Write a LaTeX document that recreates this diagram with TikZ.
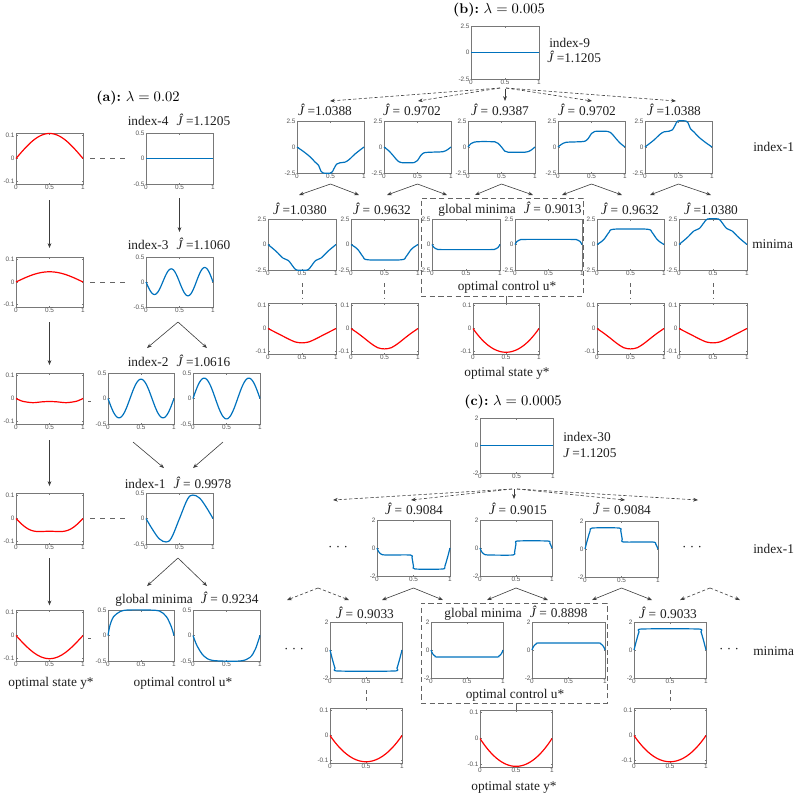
\documentclass[tikz,border=0pt]{standalone}
\usepackage{fontspec}
\usetikzlibrary{arrows.meta}
\newfontfamily\tnr{Liberation Serif}
\newfontfamily\ticksf{Liberation Sans}
\definecolor{framegray}{RGB}{120,120,120}
\definecolor{tickgray}{RGB}{85,85,85}
\definecolor{arrgray}{RGB}{60,60,60}
\definecolor{dgray}{RGB}{100,100,100}
\definecolor{mred}{RGB}{255,0,0}
\definecolor{mblue}{RGB}{0,114,189}
\definecolor{txt}{RGB}{30,30,30}
\tikzset{
  plotframe/.style={draw=framegray,line width=0.5pt,inner sep=0pt,outer sep=0pt},
  tickline/.style={draw=framegray,line width=0.4pt},
  ticklab/.style={font=\ticksf\fontsize{4.8}{5}\selectfont,text=tickgray,inner sep=0.9pt},
  lab/.style={font=\tnr\fontsize{10}{12}\selectfont,inner sep=0pt,text=txt},
  ttl/.style={font=\fontsize{10.5}{12}\selectfont,inner sep=0pt},
  rc/.style={draw=mred,line width=0.9pt},
  bc/.style={draw=mblue,line width=0.9pt},
  arr/.style={draw=arrgray,line width=0.45pt,-{Stealth[length=3.6pt,width=2.8pt]}},
  darr/.style={arr,dash pattern=on 2.4pt off 1.6pt},
  dline/.style={draw=dgray,line width=0.5pt,dash pattern=on 4pt off 3.5pt},
  vline/.style={draw=dgray,line width=0.5pt,dash pattern=on 3pt off 2.5pt},
  dbox/.style={draw=dgray,line width=0.6pt,dash pattern=on 4pt off 2.5pt,inner sep=0pt},
}
\newcommand\setaxes[4]{\gdef\prR{#1}\gdef\prT{#2}\gdef\prTop{#3}\gdef\prBot{#4}}
\newcommand\mkplot[7]{%
  \pgfmathsetmacro\mkW{#4-#2}%
  \pgfmathsetmacro\mkH{#5-#3}%
  \pgfmathsetmacro\mkCX{(#2+#4)/2}%
  \pgfmathsetmacro\mkCY{(#3+#5)/2}%
  \pgfmathsetmacro\mkTk{\mkH/2*\prT/\prR}%
  \pgfmathsetmacro\mkYs{-\mkH/2/\prR}%
  \pgfmathsetmacro\mkYt{\mkCY-\mkTk}%
  \pgfmathsetmacro\mkYb{\mkCY+\mkTk}%
  \node[plotframe,minimum width=\mkW*0.75pt,minimum height=\mkH*0.75pt] (#1) at (\mkCX,\mkCY) {};
  \draw[tickline] (#2,\mkYt) -- ++(1.5,0) (#2,\mkCY) -- ++(1.5,0) (#2,\mkYb) -- ++(1.5,0)
    (#4,\mkYt) -- ++(-1.5,0) (#4,\mkCY) -- ++(-1.5,0) (#4,\mkYb) -- ++(-1.5,0)
    (\mkCX,#5) -- ++(0,-1.5) (\mkCX,#3) -- ++(0,1.5);
  \node[ticklab,anchor=east] at (#2,\mkYt) {\prTop};
  \node[ticklab,anchor=east] at (#2,\mkCY) {0};
  \node[ticklab,anchor=east] at (#2,\mkYb) {\prBot};
  \node[ticklab,anchor=north] at (#2,#5) {0};
  \node[ticklab,anchor=north] at (\mkCX,#5) {0.5};
  \node[ticklab,anchor=north] at (#4,#5) {1};
  \begin{scope}[shift={(#2,\mkCY)},xscale=\mkW,yscale=\mkYs]
    \draw[#6] #7;
  \end{scope}%
}
\newcommand\Jh{\textit{Ĵ}}
\begin{document}
\begin{tikzpicture}[x=0.75pt,y=-0.75pt]
\useasboundingbox (0,0) rectangle (793,793);
% ================= (a)
\node[ttl] (ta) at (138,98) {\textbf{(a):}~$\lambda=0.02$};
\setaxes{0.11}{0.1}{0.1}{-0.1}
\mkplot{ra1}{16}{133}{83}{184}{rc}{plot[domain=0:1,samples=40] (\x,{0.108*sin(180*\x)})}
\mkplot{ra2}{16}{257}{83}{307}{rc}{plot[domain=0:1,samples=40] (\x,{0.045*sin(180*\x)})}
\mkplot{ra3}{16}{373}{83}{424}{rc}{plot[smooth,tension=0.5] coordinates {(0,0) (0.1,-0.012) (0.25,-0.018) (0.4,-0.014) (0.5,-0.013) (0.6,-0.014) (0.75,-0.018) (0.9,-0.012) (1,0)}}
\mkplot{ra4}{16}{493}{83}{544}{rc}{plot[domain=0:1,samples=40] (\x,{-0.065*sin(180*\x)-0.01*sin(540*\x)})}
\mkplot{ra5}{16}{610}{83}{661}{rc}{plot[domain=0:1,samples=40] (\x,{-0.1*sin(180*\x)})}
\setaxes{0.5}{0.5}{0.5}{-0.5}
\mkplot{ua4}{146}{133}{213}{184}{bc}{(0,0) -- (1,0)}
\mkplot{ua3}{146}{257}{213}{307}{bc}{plot[domain=0:1,samples=80] (\x,{-0.27*sin(720*\x)*(0.9+0.2*\x)})}
\mkplot{ua2l}{108}{373}{174}{424}{bc}{plot[domain=0:1,samples=70] (\x,{-0.38*sin(540*\x)})}
\mkplot{ua2r}{193}{373}{260}{424}{bc}{plot[domain=0:1,samples=70] (\x,{0.4*sin(540*\x)})}
\mkplot{ua1}{146}{493}{213}{544}{bc}{plot[smooth,tension=0.6] coordinates {(0,0) (0.1,-0.22) (0.2,-0.4) (0.3,-0.46) (0.38,-0.38) (0.5,0) (0.62,0.38) (0.7,0.46) (0.8,0.4) (0.9,0.22) (1,0)}}
\mkplot{ug1}{108}{610}{174}{661}{bc}{plot[smooth,tension=0.5] coordinates {(0,0) (0.03,0.2) (0.085,0.37) (0.185,0.47) (0.3,0.5) (0.6,0.5) (0.78,0.48) (0.885,0.37) (0.96,0.17) (1,0)}}
\mkplot{ug2}{193}{610}{260}{661}{bc}{plot[smooth,tension=0.5] coordinates {(0,0) (0.06,-0.2) (0.16,-0.4) (0.3,-0.49) (0.7,-0.5) (0.85,-0.43) (0.93,-0.27) (1,0)}}
\node[lab] (la4) at (179,120) {index-4\hspace{6pt}\Jh\hspace{2pt}=1.1205};
\node[lab] (la3) at (179,244) {index-3\hspace{6pt}\Jh\hspace{2pt}=1.1060};
\node[lab] (la2) at (179,361) {index-2\hspace{6pt}\Jh\hspace{2pt}=1.0616};
\node[lab] (la1) at (178,483) {index-1\hspace{6pt}\Jh\hspace{2pt}=\hspace{3pt}0.9978};
\node[lab] (lag) at (187,599) {global minima\hspace{6pt}\Jh\hspace{2pt}=\hspace{3pt}0.9234};
\node[lab] (lys) at (51,683) {optimal state y*};
\node[lab] (luc) at (183,683) {optimal control u*};
% red column arrows
\draw[arr] ([yshift=-12pt]ra1.south) -- ([yshift=6.75pt]ra2.north);
\draw[arr] ([yshift=-11.25pt]ra2.south) -- ([yshift=6pt]ra3.north);
\draw[arr] ([yshift=-12pt]ra3.south) -- ([yshift=5.25pt]ra4.north);
\draw[arr] ([yshift=-10.5pt]ra4.south) -- ([yshift=3.5pt]ra5.north);
% dashed state-control links
\draw[dline] ([xshift=5.25pt]ra1.east) -- ([xshift=-13.5pt]ua4.west);
\draw[dline] ([xshift=5.25pt]ra2.east) -- ([xshift=-13.5pt]ua3.west);
\draw[dline] ([xshift=3.75pt,yshift=-2pt]ra3.east) -- ([xshift=6pt,yshift=-2pt]ra3.east);
\draw[dline] ([xshift=5.25pt]ra4.east) -- ([xshift=-13.5pt]ua1.west);
\draw[dline] ([xshift=3.75pt,yshift=-2pt]ra5.east) -- ([xshift=6pt,yshift=-2pt]ra5.east);
% blue arrows
\draw[arr] ([yshift=-10.5pt]ua4.south) -- ++(0,-25.5pt);
\coordinate (a3s) at (178,322);
\coordinate (a2L) at (147,348);
\coordinate (a2R) at (207,348);
\draw[arr] (a3s) -- (a2L);
\draw[arr] (a3s) -- (a2R);
\coordinate (a2ls) at (133,442);
\coordinate (a2rs) at (223,442);
\coordinate (a1L) at (164,468);
\coordinate (a1R) at (193,468);
\draw[arr] (a2ls) -- (a1L);
\draw[arr] (a2rs) -- (a1R);
\coordinate (a1s) at (178,558);
\coordinate (agL) at (147,586);
\coordinate (agR) at (207,586);
\draw[arr] (a1s) -- (agL);
\draw[arr] (a1s) -- (agR);
% ================= (b)
\node[ttl] (tb) at (499,10) {\textbf{(b):}~$\lambda=0.005$};
\setaxes{2.5}{2.5}{2.5}{-2.5}
\mkplot{ub9}{471}{26}{539}{79}{bc}{(0,0) -- (1,0)}
\node[lab,anchor=west] (lb9a) at (549,43) {index-9};
\node[lab,anchor=west] (lb9b) at (547,57) {\Jh\hspace{2pt}=1.1205};
\mkplot{b1}{297}{121}{364}{173}{bc}{plot[smooth,tension=0.45] coordinates {(0,0) (0.1,-0.45) (0.2,-0.97) (0.27,-1.45) (0.32,-1.75) (0.36,-2.35) (0.39,-2.5) (0.51,-2.5) (0.55,-2.1) (0.59,-1.65) (0.64,-1.52) (0.72,-1.45) (0.78,-1.2) (0.87,-0.65) (1,0)}}
\mkplot{b2}{384}{121}{451}{173}{bc}{plot[smooth,tension=0.45] coordinates {(0,0) (0.07,-0.35) (0.14,-0.85) (0.2,-1.3) (0.26,-1.5) (0.45,-1.5) (0.5,-1.3) (0.55,-0.8) (0.6,-0.55) (0.7,-0.5) (0.88,-0.45) (0.95,-0.25) (1,0)}}
\mkplot{b3}{468}{121}{535}{173}{bc}{plot[smooth,tension=0.45] coordinates {(0,0) (0.04,0.3) (0.1,0.48) (0.2,0.52) (0.4,0.5) (0.45,0.35) (0.5,0) (0.55,-0.4) (0.6,-0.5) (0.85,-0.5) (0.93,-0.35) (1,0)}}
\mkplot{b4}{558}{121}{625}{173}{bc}{plot[smooth,tension=0.45] coordinates {(0,0) (0.05,0.25) (0.12,0.45) (0.3,0.5) (0.4,0.55) (0.45,0.8) (0.5,1.3) (0.55,1.5) (0.74,1.5) (0.8,1.3) (0.86,0.85) (0.93,0.35) (1,0)}}
\mkplot{b5}{645}{121}{712}{173}{bc}{plot[smooth,tension=0.45] coordinates {(0,0) (0.13,0.65) (0.22,1.2) (0.28,1.45) (0.36,1.52) (0.41,1.65) (0.45,2.1) (0.49,2.5) (0.61,2.5) (0.64,2.35) (0.68,1.75) (0.73,1.45) (0.8,0.97) (0.9,0.45) (1,0)}}
\node[lab] (lb1) at (325,110) {\Jh\hspace{2pt}=1.0388};
\node[lab] (lb2) at (412,110) {\Jh\hspace{2pt}=\hspace{3pt}0.9702};
\node[lab] (lb3) at (500,110) {\Jh\hspace{2pt}=\hspace{3pt}0.9387};
\node[lab] (lb4) at (587,110) {\Jh\hspace{2pt}=\hspace{3pt}0.9702};
\node[lab] (lb5) at (674,110) {\Jh\hspace{2pt}=1.0388};
\node[lab,anchor=west] (lbi1) at (753,147) {index-1};
\mkplot{bm1}{268}{219}{336}{270}{bc}{plot[smooth,tension=0.45] coordinates {(0,0) (0.12,-0.67) (0.22,-1.33) (0.3,-1.57) (0.37,-2.17) (0.42,-2.5) (0.58,-2.5) (0.63,-2.17) (0.7,-1.57) (0.78,-1.33) (0.88,-0.67) (1,0)}}
\mkplot{bm2}{351}{219}{418}{270}{bc}{plot[smooth,tension=0.45] coordinates {(0,0) (0.06,-0.25) (0.11,-0.55) (0.18,-1.2) (0.25,-1.5) (0.75,-1.5) (0.82,-1.2) (0.89,-0.55) (0.94,-0.25) (1,0)}}
\mkplot{bm3}{432}{219}{500}{270}{bc}{plot[smooth,tension=0.45] coordinates {(0,0) (0.03,-0.3) (0.08,-0.47) (0.15,-0.5) (0.85,-0.5) (0.92,-0.47) (0.97,-0.3) (1,0)}}
\mkplot{bm4}{515}{219}{582}{270}{bc}{plot[smooth,tension=0.45] coordinates {(0,0) (0.03,0.3) (0.08,0.47) (0.15,0.5) (0.85,0.5) (0.92,0.47) (0.97,0.3) (1,0)}}
\mkplot{bm5}{597}{219}{664}{270}{bc}{plot[smooth,tension=0.45] coordinates {(0,0) (0.06,0.25) (0.11,0.55) (0.18,1.2) (0.25,1.5) (0.75,1.5) (0.82,1.2) (0.89,0.55) (0.94,0.25) (1,0)}}
\mkplot{bm6}{679}{219}{747}{270}{bc}{plot[smooth,tension=0.45] coordinates {(0,0) (0.12,0.67) (0.22,1.33) (0.3,1.57) (0.37,2.17) (0.42,2.5) (0.58,2.5) (0.63,2.17) (0.7,1.57) (0.78,1.33) (0.88,0.67) (1,0)}}
\node[lab] (lbm1) at (300,209) {\Jh\hspace{2pt}=1.0380};
\node[lab] (lbm2) at (382,209) {\Jh\hspace{2pt}=\hspace{3pt}0.9632};
\node[lab] (lbg) at (510,209) {global minima\hspace{6pt}\Jh\hspace{2pt}=\hspace{3pt}0.9013};
\node[lab] (lbm5) at (630,209) {\Jh\hspace{2pt}=\hspace{3pt}0.9632};
\node[lab] (lbm6) at (711,209) {\Jh\hspace{2pt}=1.0380};
\node[lab,anchor=west] (lbmin) at (752,244) {minima};
\node[dbox,minimum width=121.5pt,minimum height=73.5pt] (gbb) at (502,247) {};
\node[lab] (lbuc) at (507,287) {optimal control u*};
\setaxes{0.11}{0.1}{0.1}{-0.1}
\mkplot{bs1}{268}{303}{336}{354}{rc}{plot[smooth,tension=0.5] coordinates {(0,0) (0.1,-0.015) (0.2,-0.03) (0.3,-0.045) (0.4,-0.058) (0.5,-0.062) (0.6,-0.058) (0.7,-0.045) (0.8,-0.03) (0.9,-0.015) (1,0)}}
\mkplot{bs2}{351}{303}{418}{354}{rc}{plot[smooth,tension=0.5] coordinates {(0,0) (0.1,-0.02) (0.2,-0.042) (0.3,-0.065) (0.4,-0.083) (0.5,-0.088) (0.6,-0.083) (0.7,-0.065) (0.8,-0.042) (0.9,-0.02) (1,0)}}
\mkplot{bs3}{473}{303}{539}{354}{rc}{plot[domain=0:1,samples=40] (\x,{-0.41*\x*(1-\x)})}
\mkplot{bs4}{597}{303}{664}{354}{rc}{plot[smooth,tension=0.5] coordinates {(0,0) (0.1,-0.02) (0.2,-0.042) (0.3,-0.065) (0.4,-0.083) (0.5,-0.088) (0.6,-0.083) (0.7,-0.065) (0.8,-0.042) (0.9,-0.02) (1,0)}}
\mkplot{bs5}{679}{303}{747}{354}{rc}{plot[smooth,tension=0.5] coordinates {(0,0) (0.1,-0.015) (0.2,-0.03) (0.3,-0.045) (0.4,-0.058) (0.5,-0.062) (0.6,-0.058) (0.7,-0.045) (0.8,-0.03) (0.9,-0.015) (1,0)}}
\node[lab] (lbys) at (507,373) {optimal state y*};
% (b) connectors
\coordinate (b9l) at (500,88);
\coordinate (b9r) at (506,88);
\coordinate (e1) at (330,101);
\coordinate (e2) at (418,101);
\coordinate (e4) at (592,101);
\coordinate (e5) at (676,101);
\draw[darr] (b9l) -- (e1);
\draw[darr] (b9l) -- (e2);
\draw[darr] (b9r) -- (e4);
\draw[darr] (b9r) -- (e5);
\draw[arr] ([yshift=-7.5pt]ub9.south) -- ++(0,-9pt);
\coordinate (f1) at (299,195);
\coordinate (f2) at (359,195);
\coordinate (f3) at (387,195);
\coordinate (f4) at (447,195);
\coordinate (f5) at (475,195);
\coordinate (f6) at (533,195);
\coordinate (f7) at (562,195);
\coordinate (f8) at (622,195);
\coordinate (f9) at (650,195);
\coordinate (f10) at (711,195);
\draw[arr] ([yshift=-8.25pt]b1.south) -- (f1);
\draw[arr] ([yshift=-8.25pt]b1.south) -- (f2);
\draw[arr] ([yshift=-8.25pt]b2.south) -- (f3);
\draw[arr] ([yshift=-8.25pt]b2.south) -- (f4);
\draw[arr] ([yshift=-8.25pt]b3.south) -- (f5);
\draw[arr] ([yshift=-8.25pt]b3.south) -- (f6);
\draw[arr] ([yshift=-8.25pt]b4.south) -- (f7);
\draw[arr] ([yshift=-8.25pt]b4.south) -- (f8);
\draw[arr] ([yshift=-8.25pt]b5.south) -- (f9);
\draw[arr] ([yshift=-8.25pt]b5.south) -- (f10);
\draw[vline] ([yshift=-9.75pt]bm1.south) -- ([yshift=3.75pt]bs1.north);
\draw[vline] ([yshift=-9.75pt]bm2.south) -- ([yshift=3.75pt]bs2.north);
\draw[vline] ([yshift=-9.75pt]bm5.south) -- ([yshift=3.75pt]bs4.north);
\draw[vline] ([yshift=-9.75pt]bm6.south) -- ([yshift=3.75pt]bs5.north);
\draw[draw=dgray,line width=0.5pt] (gbb.south -| bs3.north) -- (bs3.north);
% ================= (c)
\node[ttl] (tc) at (513,402) {\textbf{(c):}~$\lambda=0.0005$};
\setaxes{2}{2}{2}{-2}
\mkplot{uc30}{480}{418}{553}{473}{bc}{(0,0) -- (1,0)}
\node[lab,anchor=west] (lc30a) at (563,437) {index-30};
\node[lab,anchor=west] (lc30b) at (563,453) {\textit{J}\hspace{2pt}=1.1205};
\mkplot{c1}{377}{520}{450}{576}{bc}{plot[smooth,tension=0.4] coordinates {(0,0) (0.02,-0.25) (0.06,-0.45) (0.12,-0.5) (0.46,-0.5) (0.48,-0.7) (0.5,-1.3) (0.52,-1.5) (0.9,-1.5) (0.93,-1.3) (0.97,-0.6) (1,0)}}
\mkplot{c2}{480}{520}{552}{576}{bc}{plot[smooth,tension=0.4] coordinates {(0,0) (0.02,-0.25) (0.06,-0.45) (0.12,-0.5) (0.46,-0.5) (0.48,-0.3) (0.5,0.3) (0.52,0.5) (0.94,0.5) (0.97,0.35) (1,0)}}
\mkplot{c3}{585}{521}{658}{577}{bc}{plot[smooth,tension=0.4] coordinates {(0,0) (0.03,0.6) (0.07,1.3) (0.1,1.5) (0.47,1.5) (0.49,1.3) (0.51,0.7) (0.53,0.5) (0.93,0.5) (0.97,0.35) (1,0)}}
\node[lab] (lc1) at (414,509) {\Jh\hspace{2pt}=\hspace{3pt}0.9084};
\node[lab] (lc2) at (518,509) {\Jh\hspace{2pt}=\hspace{3pt}0.9015};
\node[lab] (lc3) at (622,509) {\Jh\hspace{2pt}=\hspace{3pt}0.9084};
\node[lab] (dc1) at (338,549) {·\hspace{2.5pt}·\hspace{2.5pt}·};
\node[lab] (dc2) at (692,549) {·\hspace{2.5pt}·\hspace{2.5pt}·};
\node[lab,anchor=west] (lci1) at (753,549) {index-1};
\mkplot{cm1}{330}{622}{402}{678}{bc}{plot[smooth,tension=0.4] coordinates {(0,0) (0.03,-0.6) (0.07,-1.3) (0.11,-1.5) (0.89,-1.5) (0.93,-1.3) (0.97,-0.6) (1,0)}}
\mkplot{cm2}{431}{622}{503}{678}{bc}{plot[smooth,tension=0.4] coordinates {(0,0) (0.02,-0.25) (0.06,-0.45) (0.12,-0.5) (0.88,-0.5) (0.94,-0.45) (0.98,-0.25) (1,0)}}
\mkplot{cm3}{532}{622}{605}{678}{bc}{plot[smooth,tension=0.4] coordinates {(0,0) (0.02,0.25) (0.06,0.45) (0.12,0.5) (0.88,0.5) (0.94,0.45) (0.98,0.25) (1,0)}}
\mkplot{cm4}{634}{622}{706}{678}{bc}{plot[smooth,tension=0.4] coordinates {(0,0) (0.03,0.6) (0.07,1.3) (0.11,1.5) (0.89,1.5) (0.93,1.3) (0.97,0.6) (1,0)}}
\node[lab] (lcm1) at (365,613) {\Jh\hspace{2pt}=\hspace{3pt}0.9033};
\node[lab] (lcg) at (516,613) {global minima\hspace{6pt}\Jh\hspace{2pt}=\hspace{3pt}0.8898};
\node[lab] (lcm4) at (668,613) {\Jh\hspace{2pt}=\hspace{3pt}0.9033};
\node[lab] (dc3) at (294,651) {·\hspace{2.5pt}·\hspace{2.5pt}·};
\node[lab] (dc4) at (729,651) {·\hspace{2.5pt}·\hspace{2.5pt}·};
\node[lab,anchor=west] (lcmin) at (753,651) {minima};
\node[dbox,minimum width=139.5pt,minimum height=75pt] (gcb) at (514,653) {};
\node[lab] (lcuc) at (515,695) {optimal control u*};
\setaxes{0.11}{0.1}{0.1}{-0.1}
\mkplot{cs1}{330}{708}{402}{763}{rc}{plot[domain=0:1,samples=40] (\x,{-0.42*\x*(1-\x)})}
\mkplot{cs2}{480}{710}{552}{767}{rc}{plot[domain=0:1,samples=40] (\x,{-0.43*\x*(1-\x)})}
\mkplot{cs3}{634}{708}{706}{763}{rc}{plot[domain=0:1,samples=40] (\x,{-0.42*\x*(1-\x)})}
\node[lab] (lcys) at (514,787) {optimal state y*};
% (c) connectors
\coordinate (c30l) at (512,489);
\coordinate (c30r) at (517,489);
\coordinate (g1) at (333,500);
\coordinate (g2) at (411,500);
\coordinate (g4) at (625,500);
\coordinate (g5) at (698,500);
\draw[darr] (c30l) -- (g1);
\draw[darr] (c30l) -- (g2);
\draw[darr] (c30r) -- (g4);
\draw[darr] (c30r) -- (g5);
\coordinate (c30m) at (514,489);
\coordinate (g3) at (514,499);
\draw[arr] (c30m) -- (g3);
\coordinate (h1) at (382,600);
\coordinate (h2) at (443,600);
\coordinate (h3) at (487,600);
\coordinate (h4) at (548,600);
\coordinate (h5) at (592,600);
\coordinate (h6) at (652,600);
\draw[arr] ([yshift=-9pt]c1.south) -- (h1);
\draw[arr] ([yshift=-9pt]c1.south) -- (h2);
\draw[arr] ([yshift=-9pt]c2.south) -- (h3);
\draw[arr] ([yshift=-9pt]c2.south) -- (h4);
\draw[arr] ([yshift=-8.25pt]c3.south) -- (h5);
\draw[arr] ([yshift=-8.25pt]c3.south) -- (h6);
\coordinate (kL) at (318,588);
\coordinate (kL1) at (287,600);
\coordinate (kL2) at (349,600);
\coordinate (kR) at (710,588);
\coordinate (kR1) at (680,600);
\coordinate (kR2) at (740,600);
\draw[darr] (kL) -- (kL1);
\draw[darr] (kL) -- (kL2);
\draw[darr] (kR) -- (kR1);
\draw[darr] (kR) -- (kR2);
\draw[vline] ([yshift=-9pt]cm1.south) -- ([yshift=4.5pt]cs1.north);
\draw[vline] ([yshift=-9pt]cm4.south) -- ([yshift=4.5pt]cs3.north);
\draw[draw=dgray,line width=0.5pt] (gcb.south -| cs2.north) -- (cs2.north);
\end{tikzpicture}
\end{document}
